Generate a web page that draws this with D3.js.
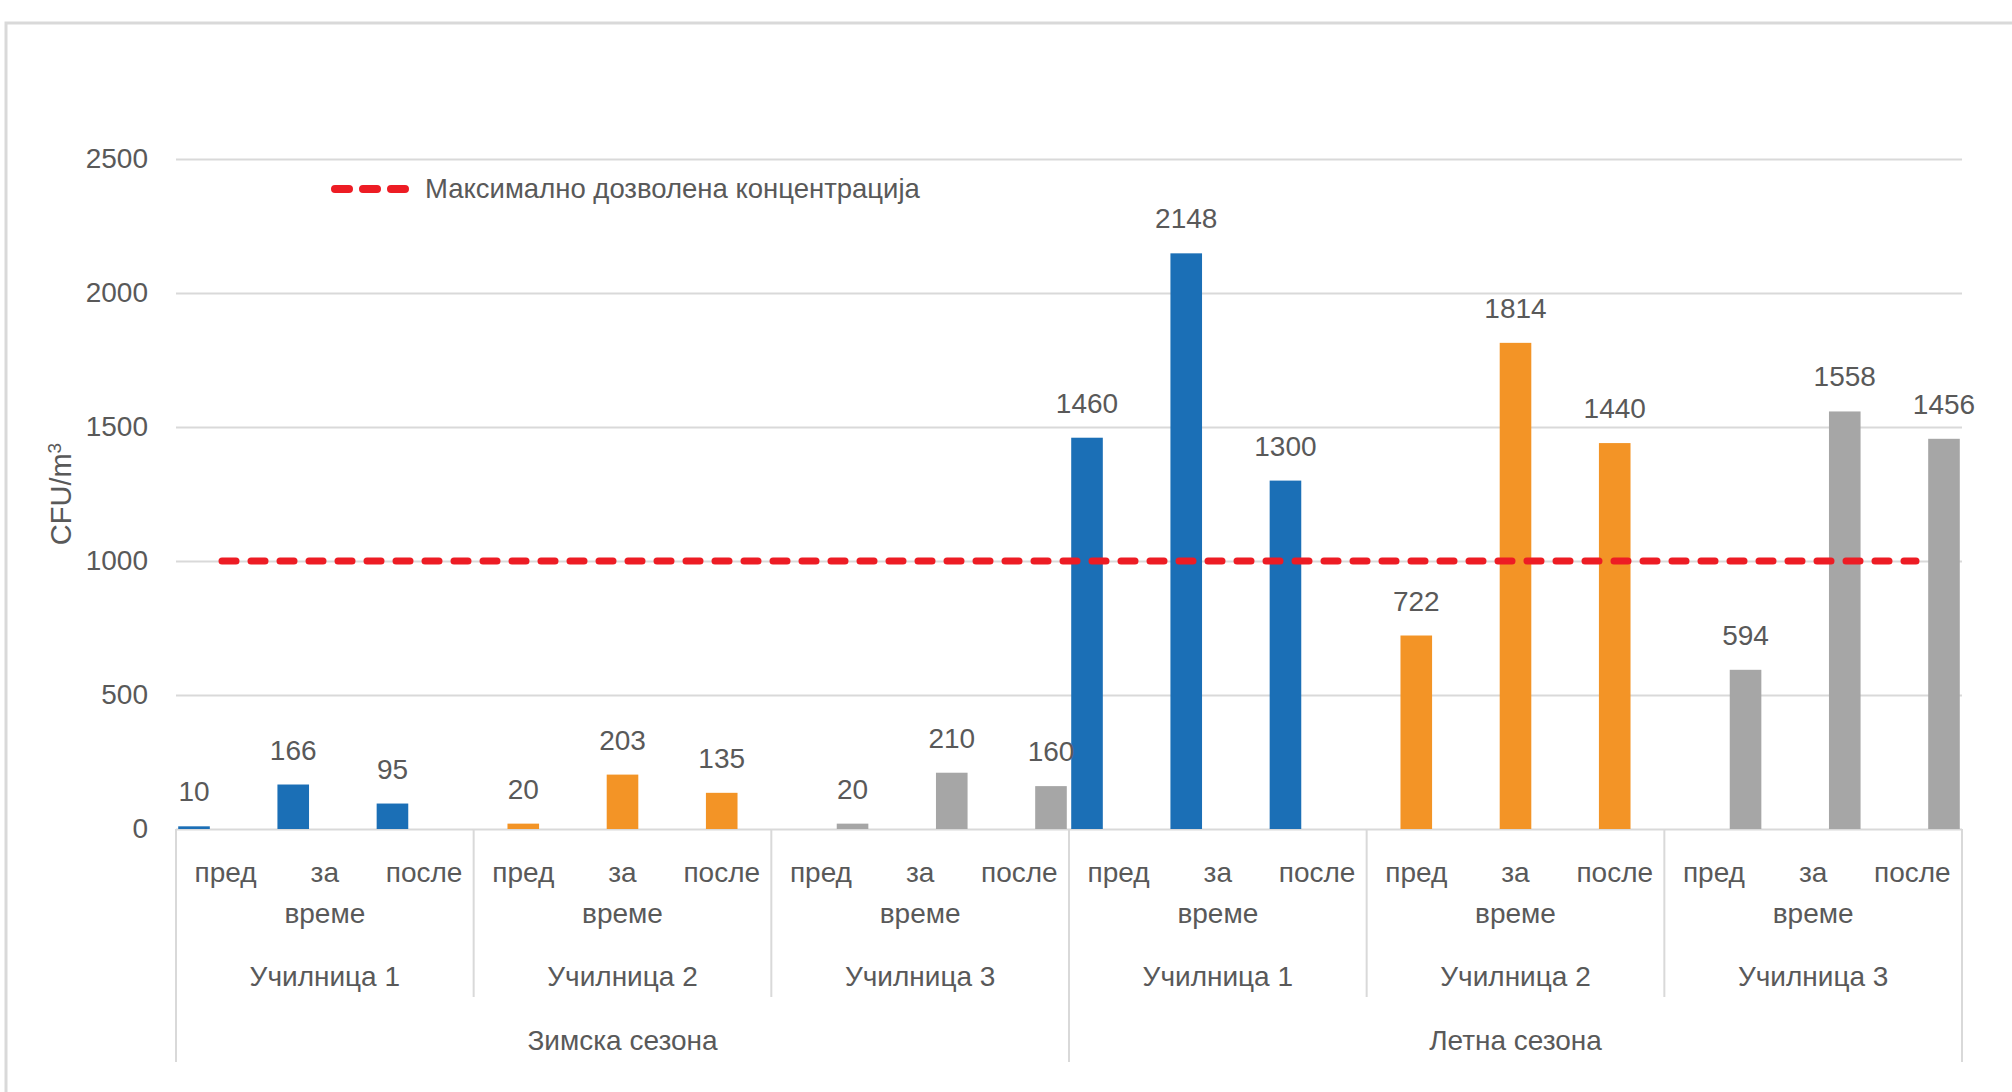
<!DOCTYPE html>
<html>
<head>
<meta charset="utf-8">
<script src="https://cdn.jsdelivr.net/npm/d3@7"></script>
<style>
  body { margin: 0; background: #fff; }
  svg text { font-family: "Liberation Sans", Arial, sans-serif; fill: #595959; }
</style>
</head>
<body>
<div class="chart"></div>
<script>
//Data
var seasons = ["Зимска сезона", "Летна сезона"];
var schools = ["Училница 1", "Училница 2", "Училница 3"];
var times = ["пред", "за време", "после"];
var winterValues = [[10, 166, 95], [20, 203, 135], [20, 210, 160]];
var summerValues = [[1460, 2148, 1300], [722, 1814, 1440], [594, 1558, 1456]];
var yTicks = [0, 500, 1000, 1500, 2000, 2500];
var limitValue = 1000;
var limitLabel = "Максимално дозволена концентрација";
var colors = ["#1b6fb6", "#f39426", "#a6a6a6"];

function init(){
  var w = 2012;
  var h = 1092;
  var fontSize = "28px";

  //Build the flat list of bars: one per season / school / time
  var dataset = [];
  [winterValues, summerValues].forEach(function(seasonVals, s){
    seasonVals.forEach(function(vals, k){
      vals.forEach(function(v, t){
        dataset.push({id: s + "-" + k + "-" + t, season: s, school: k, time: t, value: v});
      });
    });
  });

  var svg = d3.select(".chart")
              .append("svg")
              .attr("width", w)
              .attr("height", h);

  //Chart frame
  svg.append("rect")
      .attr("x", 6)
      .attr("y", 23)
      .attr("width", w + 50)
      .attr("height", h + 50)
      .attr("fill", "none")
      .attr("stroke", "#d9d9d9")
      .attr("stroke-width", 3);

  var x0 = d3.scaleBand()
             .domain(dataset.map(function(d){ return d.id; }))
             .range([176, 1962])
             .padding(0);

  var x1 = d3.scaleBand()
             .domain(d3.range(schools.length))
             .range([0, x0.bandwidth()])
             .paddingInner(0)
             .paddingOuter(0.07);

  var y = d3.scaleLinear()
            .domain([0, 2500])
            .range([829, 159]);

  //Y axis with gridlines
  var yAxis = d3.axisLeft(y)
                .tickValues(yTicks)
                .tickSize(-(1962 - 176))
                .tickPadding(28)
                .tickFormat(d3.format("d"));

  var gy = svg.append("g")
              .attr("transform", "translate(176,0)")
              .call(yAxis);
  gy.select(".domain").remove();
  gy.selectAll("line").attr("stroke", "#d9d9d9").attr("stroke-width", 2);
  gy.selectAll("text")
    .style("font-size", fontSize)
    .attr("fill", "#595959");

  //Y axis title
  svg.append("text")
      .attr("transform", "translate(71,494) rotate(-90)")
      .attr("text-anchor", "middle")
      .style("font-size", "29px")
      .html('CFU/m<tspan dy="-10" style="font-size:19px">3</tspan>');

  //Bars
  svg.selectAll("rect.bar")
      .data(dataset)
      .enter()
      .append("rect")
      .attr("class", "bar")
      .attr("x", function(d){ return x0(d.id) + x1(d.school); })
      .attr("y", function(d){ return y(d.value); })
      .attr("width", x1.bandwidth())
      .attr("height", function(d){ return y(0) - y(d.value); })
      .attr("fill", function(d){ return colors[d.school]; });

  //Data labels
  svg.selectAll("text.lbl")
      .data(dataset)
      .enter()
      .append("text")
      .attr("class", "lbl")
      .attr("x", function(d){ return x0(d.id) + x1(d.school) + x1.bandwidth() / 2; })
      .attr("y", function(d){ return y(d.value) - 25; })
      .attr("text-anchor", "middle")
      .style("font-size", fontSize)
      .text(function(d){ return d.value; });

  //Limit line
  svg.append("line")
      .attr("x1", 222)
      .attr("x2", 1916)
      .attr("y1", y(limitValue))
      .attr("y2", y(limitValue))
      .attr("stroke", "#ed1c24")
      .attr("stroke-width", 7)
      .attr("stroke-linecap", "round")
      .attr("stroke-dasharray", "14 15");

  //Legend
  svg.append("line")
      .attr("x1", 335)
      .attr("x2", 405)
      .attr("y1", 189)
      .attr("y2", 189)
      .attr("stroke", "#ed1c24")
      .attr("stroke-width", 8)
      .attr("stroke-linecap", "round")
      .attr("stroke-dasharray", "14 14");

  svg.append("text")
      .attr("x", 425)
      .attr("y", 198)
      .style("font-size", "27.5px")
      .text(limitLabel);

  //Category axis: time labels
  var axisG = svg.append("g").attr("class", "cat-axis");

  axisG.selectAll("text.time")
      .data(dataset)
      .enter()
      .append("text")
      .attr("class", "time")
      .attr("text-anchor", "middle")
      .style("font-size", fontSize)
      .attr("x", function(d){ return x0(d.id) + x0.bandwidth() / 2; })
      .attr("y", 882)
      .each(function(d){
        var words = times[d.time].split(" ");
        var el = d3.select(this);
        var cx = x0(d.id) + x0.bandwidth() / 2;
        words.forEach(function(wd, i){
          el.append("tspan")
            .attr("x", cx)
            .attr("dy", i == 0 ? 0 : 41)
            .text(wd);
        });
      });

  //School labels and separators
  var groups = [];
  seasons.forEach(function(s, si){
    schools.forEach(function(sc, ki){
      groups.push({season: si, school: ki, first: si + "-" + ki + "-0", last: si + "-" + ki + "-2"});
    });
  });

  axisG.selectAll("text.school")
      .data(groups)
      .enter()
      .append("text")
      .attr("class", "school")
      .attr("text-anchor", "middle")
      .style("font-size", fontSize)
      .attr("x", function(d){ return (x0(d.first) + x0(d.last) + x0.bandwidth()) / 2; })
      .attr("y", 986)
      .text(function(d){ return schools[d.school]; });

  axisG.selectAll("line.sep")
      .data(groups)
      .enter()
      .append("line")
      .attr("class", "sep")
      .attr("x1", function(d){ return x0(d.first); })
      .attr("x2", function(d){ return x0(d.first); })
      .attr("y1", 829)
      .attr("y2", function(d){ return d.school == 0 ? 1062 : 997; })
      .attr("stroke", "#d9d9d9")
      .attr("stroke-width", 2);

  //Right edge of the category axis
  axisG.append("line")
      .attr("x1", 1962)
      .attr("x2", 1962)
      .attr("y1", 829)
      .attr("y2", 1062)
      .attr("stroke", "#d9d9d9")
      .attr("stroke-width", 2);

  //Season labels
  axisG.selectAll("text.season")
      .data(seasons)
      .enter()
      .append("text")
      .attr("class", "season")
      .attr("text-anchor", "middle")
      .style("font-size", fontSize)
      .attr("x", function(d, i){
        return (x0(i + "-0-0") + x0(i + "-2-2") + x0.bandwidth()) / 2;
      })
      .attr("y", 1050)
      .text(function(d){ return d; });
}

window.onload = init;
</script>
</body>
</html>
